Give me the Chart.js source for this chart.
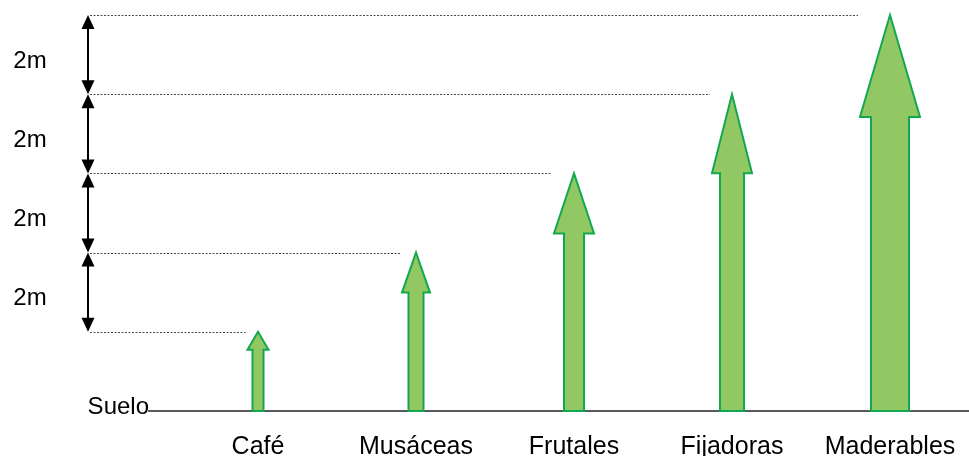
<!DOCTYPE html>
<html>
<head>
<meta charset="utf-8">
<script src="https://cdn.jsdelivr.net/npm/chart.js@4.4.1/dist/chart.umd.min.js"></script>
<style>
  html, body { margin: 0; padding: 0; background: #fff; }
  #wrap { width: 969px; height: 456px; }
</style>
</head>
<body>
<div id="wrap"><canvas id="chart" width="969" height="456"></canvas></div>
<script>
/* Heights of each crop layer (metres) */
const categories = ["Café", "Musáceas", "Frutales", "Fijadoras", "Maderables"];
const heights    = [2, 4, 6, 8, 10];

/* Dimension marks on the left */
const levels      = [2, 4, 6, 8, 10];
const levelLabels = ["2m", "2m", "2m", "2m"];
const groundLabel = "Suelo";

/* ── Arrow styling (pixels) ─────────────────────────────────── */
const shaftW = [11, 15, 20, 24, 38];
const headW  = [21, 28, 40, 40, 60];
const headH  = [18, 40, 60, 79, 102];

const FILL   = "#92c864";
const STROKE = "#13a84f";
const FONT   = "'Liberation Sans', Arial, sans-serif";

/* ── Plugin: ground line, dotted guides, dimension arrows, crop arrows ── */
const arrowPlugin = {
  id: "arrows",
  afterDatasetsDraw(chart) {
    const { ctx, chartArea } = chart;
    const xs = chart.scales.x, ys = chart.scales.y;
    const y0 = ys.getPixelForValue(0);
    const dimX = 88;

    ctx.save();

    // ground line
    ctx.strokeStyle = "#5a5a5a";
    ctx.lineWidth = 2;
    ctx.beginPath();
    ctx.moveTo(148, y0);
    ctx.lineTo(chartArea.right, y0);
    ctx.stroke();

    ctx.fillStyle = "#000";
    ctx.font = "24px " + FONT;
    ctx.textAlign = "right";
    ctx.textBaseline = "alphabetic";
    ctx.fillText(groundLabel, 149, y0 + 3);

    // dotted guides from dimension line to each arrow tip
    ctx.strokeStyle = "#4a4a4a";
    ctx.lineWidth = 1;
    ctx.setLineDash([2, 1.5]);
    heights.forEach((h, i) => {
      const y = Math.round(ys.getPixelForValue(h)) + 0.5;
      const xEnd = xs.getPixelForValue(i) - headW[i] / 2 - 2;
      ctx.beginPath();
      ctx.moveTo(dimX + 2, y);
      ctx.lineTo(xEnd, y);
      ctx.stroke();
    });
    ctx.setLineDash([]);

    // double-headed dimension arrows
    ctx.strokeStyle = "#000";
    ctx.fillStyle = "#000";
    ctx.lineWidth = 2;
    for (let k = 0; k < levels.length - 1; k++) {
      const yb = ys.getPixelForValue(levels[k]);
      const yt = ys.getPixelForValue(levels[k + 1]);
      ctx.beginPath();
      ctx.moveTo(dimX, yt + 12);
      ctx.lineTo(dimX, yb - 12);
      ctx.stroke();
      // top head
      ctx.beginPath();
      ctx.moveTo(dimX, yt);
      ctx.lineTo(dimX - 6.5, yt + 14);
      ctx.lineTo(dimX + 6.5, yt + 14);
      ctx.closePath();
      ctx.fill();
      // bottom head
      ctx.beginPath();
      ctx.moveTo(dimX, yb);
      ctx.lineTo(dimX - 6.5, yb - 14);
      ctx.lineTo(dimX + 6.5, yb - 14);
      ctx.closePath();
      ctx.fill();
      // label
      ctx.font = "24px " + FONT;
      ctx.textAlign = "center";
      ctx.textBaseline = "alphabetic";
      ctx.fillText(levelLabels[k], 30, (yb + yt) / 2 + 13);
    }

    // crop arrows
    ctx.fillStyle = FILL;
    ctx.strokeStyle = STROKE;
    ctx.lineWidth = 2;
    ctx.lineJoin = "miter";
    heights.forEach((h, i) => {
      const cx = xs.getPixelForValue(i);
      const tip = ys.getPixelForValue(h);
      const hb = tip + headH[i];
      const sw = shaftW[i] / 2, hw = headW[i] / 2;
      ctx.beginPath();
      ctx.moveTo(cx, tip);
      ctx.lineTo(cx + hw, hb);
      ctx.lineTo(cx + sw, hb);
      ctx.lineTo(cx + sw, y0);
      ctx.lineTo(cx - sw, y0);
      ctx.lineTo(cx - sw, hb);
      ctx.lineTo(cx - hw, hb);
      ctx.closePath();
      ctx.fill();
      ctx.stroke();
    });

    ctx.restore();
  }
};

new Chart(document.getElementById("chart"), {
  type: "bar",
  data: {
    labels: categories,
    datasets: [{
      data: heights,
      backgroundColor: "rgba(0,0,0,0)",
      borderWidth: 0,
    }],
  },
  options: {
    responsive: false,
    animation: false,
    events: [],
    layout: { padding: { left: 179, right: 0, top: 15, bottom: 0 } },
    plugins: { legend: { display: false }, tooltip: { enabled: false } },
    scales: {
      x: {
        grid:   { display: false },
        border: { display: false },
        ticks:  { color: "#000", font: { family: FONT, size: 25 }, padding: 13, maxRotation: 0 },
        afterFit: (scale) => { scale.height = 45; },
      },
      y: { display: false, min: 0, max: 10 },
    },
  },
  plugins: [arrowPlugin],
});
</script>
</body>
</html>
